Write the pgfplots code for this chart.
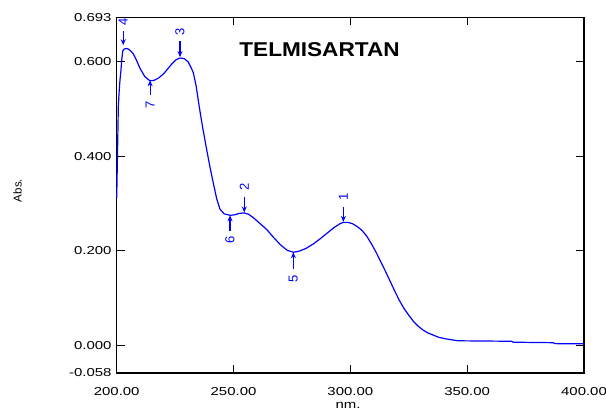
\documentclass[border=0pt]{standalone}
\usepackage{fontspec}
\setmainfont{Liberation Sans}
\newfontfamily\widefont[FakeStretch=1.3]{Liberation Sans}
\newfontfamily\titlefont[FakeStretch=1.13]{Liberation Sans}
\usepackage{pgfplots}
\pgfplotsset{compat=1.18}
\usetikzlibrary{arrows.meta}

\pgfplotstableread{
nm abs
200.0 0.311
200.4 0.420
200.7 0.505
201.1 0.540
201.4 0.560
201.8 0.580
202.2 0.605
202.6 0.622
203.2 0.626
204.0 0.627
205.0 0.626
206.0 0.622
207.1 0.616
208.5 0.602
210.0 0.585
212.0 0.568
214.2 0.559
216.0 0.560
218.0 0.565
219.9 0.573
221.5 0.582
223.5 0.594
225.3 0.603
227.0 0.607
228.8 0.606
230.6 0.599
232.0 0.585
232.8 0.576
234.0 0.548
235.3 0.505
236.8 0.460
238.5 0.414
240.0 0.375
241.3 0.344
242.8 0.310
244.2 0.288
246.0 0.278
248.5 0.275
250.5 0.276
252.5 0.279
254.6 0.280
256.5 0.277
258.5 0.270
261.0 0.259
264.2 0.245
267.0 0.229
270.0 0.213
273.0 0.201
275.6 0.197
278.0 0.199
281.0 0.205
284.0 0.214
287.0 0.225
290.0 0.237
293.0 0.249
295.5 0.257
297.0 0.260
299.0 0.260
301.0 0.257
303.0 0.251
305.0 0.243
307.0 0.231
309.0 0.215
311.0 0.197
313.0 0.177
315.0 0.157
317.0 0.136
319.0 0.115
321.0 0.095
323.0 0.078
325.0 0.064
327.0 0.051
329.0 0.041
331.0 0.033
333.0 0.027
335.5 0.022
338.0 0.017
341.0 0.014
343.5 0.012
346.2 0.010
369.0 0.009
369.7 0.007
386.8 0.006
387.5 0.004
400.0 0.0036
}\spectrum

\begin{document}
\begin{tikzpicture}[
  annot/.style={blue, line width=1.1pt, -{Stealth[length=6pt,width=5pt]}},
  lbl/.style={blue, rotate=90, inner sep=0pt, font=\fontsize{13}{15}\selectfont},
]
\begin{axis}[
  at={(0,0)}, anchor=south west,
  width=467.3pt, height=355.7pt, scale only axis,
  xmin=200, xmax=400, ymin=-0.058, ymax=0.693,
  xtick={200,250,300,350,400},
  xticklabels={200.00,250.00,300.00,350.00,400.00},
  ytick={-0.058,0,0.2,0.4,0.6,0.693},
  yticklabels={-0.058,0.000,0.200,0.400,0.600,0.693},
  tick align=inside, major tick length=8pt,
  tick style={black, line width=1.1pt},
  axis line style={line width=1.2pt},
  xticklabel style={anchor=base, yshift=-22.7pt, font=\widefont\fontsize{11.5}{13}\selectfont},
  yticklabel style={anchor=east, inner sep=0pt, xshift=-5pt, font=\widefont\fontsize{11.5}{13}\selectfont},
  xlabel={nm.},
  xlabel style={at={(axis description cs:0.495,-0.0995)}, anchor=base, font=\widefont\fontsize{11.5}{13}\selectfont},
  ylabel={Abs.},
  ylabel style={at={(axis description cs:-0.2123,0.513)}, anchor=center, font=\fontsize{11.5}{13}\selectfont},
  clip=false,
]
\addplot[blue, line width=1.2pt] table[x=nm, y=abs] {\spectrum};

% peak / valley markers
\draw[annot] (axis cs:202.8,0.664) -- (axis cs:202.8,0.634);
\node[lbl] at (axis cs:202.8,0.684) {4};
\draw[annot] (axis cs:227.1,0.642) -- (axis cs:227.1,0.609);
\node[lbl] at (axis cs:227.1,0.663) {3};
\draw[annot] (axis cs:214.3,0.528) -- (axis cs:214.3,0.560);
\node[lbl] at (axis cs:214.3,0.508) {7};
\draw[annot] (axis cs:254.6,0.313) -- (axis cs:254.6,0.281);
\node[lbl] at (axis cs:254.6,0.335) {2};
\draw[annot] (axis cs:248.5,0.242) -- (axis cs:248.5,0.275);
\node[lbl] at (axis cs:248.5,0.222) {6};
\draw[annot] (axis cs:297.0,0.292) -- (axis cs:297.0,0.261);
\node[lbl] at (axis cs:297.0,0.313) {1};
\draw[annot] (axis cs:275.6,0.162) -- (axis cs:275.6,0.197);
\node[lbl] at (axis cs:275.6,0.141) {5};

\node[anchor=base, font=\titlefont\bfseries\fontsize{20}{24}\selectfont] at (axis description cs:0.434,0.889) {TELMISARTAN};
\end{axis}
\pgfresetboundingbox
\path[use as bounding box] (-116.7pt,-37pt) rectangle (489.3pt,373pt);
\end{tikzpicture}
\end{document}
